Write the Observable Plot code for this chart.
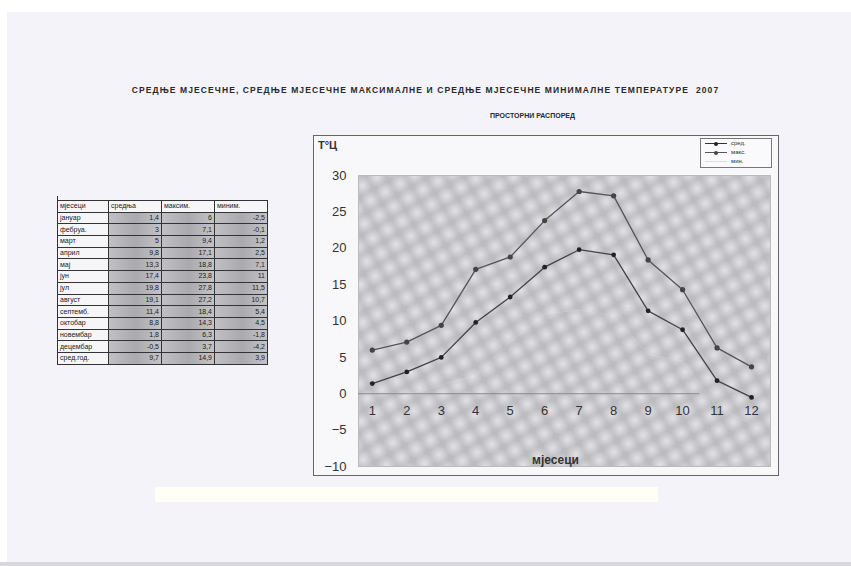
<!DOCTYPE html>
<html><head><meta charset="utf-8">
<script src="https://cdn.jsdelivr.net/npm/d3@7"></script>
<script src="https://cdn.jsdelivr.net/npm/@observablehq/plot@0.6"></script>
<style>
html,body{margin:0;padding:0;width:851px;height:566px;overflow:hidden;background:#fff;font-family:"Liberation Sans",Arial,sans-serif;}
#paper{position:absolute;left:7px;top:12px;width:844px;height:550px;background:#f4f3fa;}
#bottom{position:absolute;left:0;top:562px;width:851px;height:4px;background:#d8d8dc;}
#title{position:absolute;left:0;width:851px;top:85px;text-align:center;font-size:8.5px;font-weight:bold;color:#2a2a2a;letter-spacing:1.1px;padding-left:0px;}
#sub{position:absolute;left:490px;top:112px;font-size:7px;font-weight:bold;color:#2a2a2a;letter-spacing:0px;}
#chartbox{position:absolute;left:313px;top:135px;width:464px;height:339px;border:1px solid #666;background:#f8f8fb;}
#chart{position:absolute;left:313px;top:135px;}
#tlabel{position:absolute;left:318px;top:139px;font-size:11px;font-weight:bold;color:#333;}
#legend{position:absolute;left:700px;top:138px;width:70px;height:28px;border:1px solid #777;background:#fafafc;font-size:6px;color:#333;}
#legend div{position:relative;height:9px;line-height:9px;}
#legend .ln{position:absolute;left:4px;top:4px;width:22px;height:1px;}
#legend .dt{position:absolute;left:13px;top:2.5px;width:4px;height:4px;border-radius:2px;}
#legend .tx{position:absolute;left:30px;top:0;}
#tbl{position:absolute;left:57px;top:200px;border-collapse:collapse;font-size:7px;color:#222;}
#tbl td{border:1px solid #333;height:10.7px;padding:0 2px;line-height:10px;white-space:nowrap;}
#tbl td.n{width:46px;background:#f6f6f8;text-align:left;}
#tbl td.v{width:48px;text-align:right;background:linear-gradient(90deg,#c0c0c4,#aaaaae 50%,#c4c4c8);}
#tbl tr.h td{background:#f6f6f8;text-align:left;}
#tick{position:absolute;left:57px;top:196px;width:1px;height:8px;background:#333;}
#bar{position:absolute;left:155px;top:487px;width:503px;height:15px;background:#fffff6;}
</style></head>
<body>
<div id="paper"></div><div id="bottom"></div>
<div id="title">СРЕДЊЕ МЈЕСЕЧНЕ, СРЕДЊЕ МЈЕСЕЧНЕ МАКСИМАЛНЕ И СРЕДЊЕ МЈЕСЕЧНЕ МИНИМАЛНЕ ТЕМПЕРАТУРЕ&nbsp;&nbsp;2007</div>
<div id="sub">ПРОСТОРНИ РАСПОРЕД</div>
<div id="tick"></div>
<table id="tbl"></table>
<div id="chartbox"></div>
<div id="chart"></div>
<div id="tlabel">Т°Ц</div>
<div id="legend"></div>
<div id="bar"></div>
<script>
// ---- data ----
const months = [1,2,3,4,5,6,7,8,9,10,11,12];
const monthNames = ["јануар","фебруа.","март","април","мај","јун","јул","август","септемб.","октобар","новембар","децембар"];
const tableHeader = ["мјесеци","средња","максим.","миним."];
const meanT = [1.4, 3, 5, 9.8, 13.3, 17.4, 19.8, 19.1, 11.4, 8.8, 1.8, -0.5];
const maxT  = [6, 7.1, 9.4, 17.1, 18.8, 23.8, 27.8, 27.2, 18.4, 14.3, 6.3, 3.7];
const minT  = [-2.5, -0.1, 1.2, 2.5, 7.1, 11, 11.5, 10.7, 5.4, 4.5, -1.8, -4.2];
const yearLabel = "сред.год.";
const yearMean = 9.7, yearMax = 14.9, yearMin = 3.9;
const seriesNames = ["сред.","макс.","мин."];
const yTicks = [30,25,20,15,10,5,0,-5,-10];

// ---- table ----
const tbl = document.getElementById("tbl");
const fmt = v => String(v).replace(".", ",");
let html = "<tr class='h'>" + tableHeader.map((h,i)=>`<td class='${i?"v":"n"}'>${h}</td>`).join("") + "</tr>";
months.forEach((m,i)=>{
  html += `<tr><td class='n'>${monthNames[i]}</td><td class='v'>${fmt(meanT[i])}</td><td class='v'>${fmt(maxT[i])}</td><td class='v'>${fmt(minT[i])}</td></tr>`;
});
html += `<tr><td class='n'>${yearLabel}</td><td class='v'>${fmt(yearMean)}</td><td class='v'>${fmt(yearMax)}</td><td class='v'>${fmt(yearMin)}</td></tr>`;
tbl.innerHTML = html;

// ---- legend ----
const legendStyles = [{c:"#333",dot:"#222"},{c:"#555",dot:"#444"},{c:"#ddd",dot:null}];
document.getElementById("legend").innerHTML = seriesNames.map((s,i)=>
  `<div><span class='ln' style='background:${legendStyles[i].c}'></span>${legendStyles[i].dot?`<span class='dt' style='background:${legendStyles[i].dot}'></span>`:""}<span class='tx'>${s}</span></div>`).join("");

// ---- chart ----
const rows = [];
months.forEach((m,i)=>{
  rows.push({m, v:meanT[i], s:"сред."});
  rows.push({m, v:maxT[i], s:"макс."});
  rows.push({m, v:minT[i], s:"мин."});
});
const meanRows = rows.filter(d=>d.s==="сред.");
const maxRows = rows.filter(d=>d.s==="макс.");
const minRows = rows.filter(d=>d.s==="мин.");

const chart = Plot.plot({
  width: 466, height: 341,
  marginLeft: 45, marginRight: 9, marginTop: 40, marginBottom: 10,
  style: {background: "transparent", fontFamily: "Liberation Sans, Arial, sans-serif"},
  x: {domain: [0.6, 12.55], axis: null},
  y: {domain: [-10, 30], ticks: yTicks, tickSize: 0, tickPadding: 12, label: null, tickFormat: d=>String(d)},
  marks: [
    Plot.frame({fill: "url(#mottle)", stroke: "#bbb"}),
    Plot.ruleY([0], {x1: 0.6, x2: 10.5, stroke: "#8a8a8e", strokeWidth: 1}),
    Plot.text(months, {x: d=>d, y: -2.4, text: d=>String(d), fontSize: 13, fill: "#333"}),
    Plot.text(["мјесеци"], {frameAnchor: "bottom", dx: -9, dy: -3, fontSize: 12, fontWeight: "bold", fill: "#333"}),
    Plot.line(minRows, {x: "m", y: "v", stroke: "#fff", strokeOpacity: 0.12, strokeWidth: 1}),
    Plot.line(maxRows, {x: "m", y: "v", stroke: "#555", strokeWidth: 1.3}),
    Plot.dot(maxRows, {x: "m", y: "v", r: 2.6, fill: "#444"}),
    Plot.line(meanRows, {x: "m", y: "v", stroke: "#444", strokeWidth: 1.3}),
    Plot.dot(meanRows, {x: "m", y: "v", r: 2.4, fill: "#222"}),
    Plot.axisY({ticks: yTicks, tickSize: 0, tickPadding: 12, fontSize: 13, fill: "#333", label: null})
  ]
});
// mottled pattern defs
const svg = d3.select(chart);
const defs = svg.insert("defs", ":first-child");
const rg = defs.append("radialGradient").attr("id","spot");
rg.append("stop").attr("offset","0%").attr("stop-color","#e2e2e6").attr("stop-opacity",1);
rg.append("stop").attr("offset","100%").attr("stop-color","#e2e2e6").attr("stop-opacity",0);
const pat = defs.append("pattern").attr("id","mottle").attr("patternUnits","userSpaceOnUse").attr("width",24).attr("height",24).attr("patternTransform","rotate(15)");
pat.append("rect").attr("width",24).attr("height",24).attr("fill","#bcbcc0");
[[0,0],[24,0],[0,24],[24,24],[12,12]].forEach(([cx,cy])=>pat.append("circle").attr("cx",cx).attr("cy",cy).attr("r",10).attr("fill","url(#spot)"));
document.getElementById("chart").appendChild(chart);
</script>
</body></html>
